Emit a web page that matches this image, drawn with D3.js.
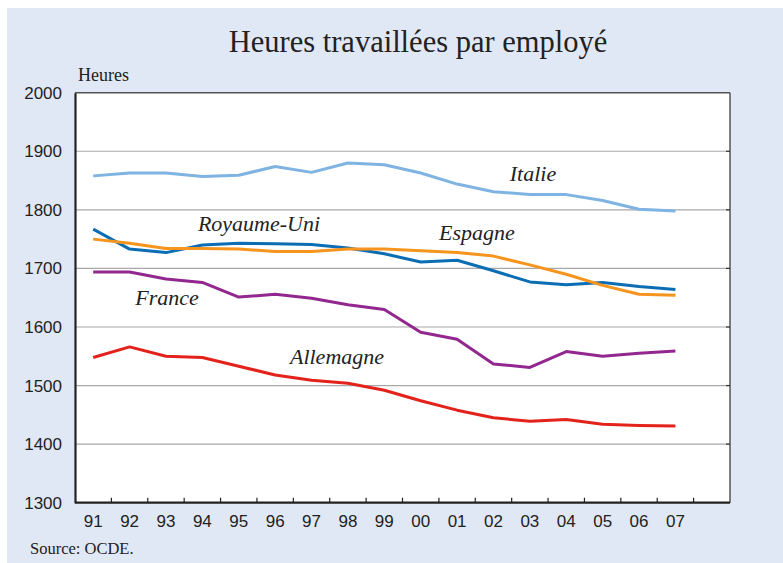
<!DOCTYPE html>
<meta charset="utf-8">
<style>
body { margin: 0; background: #fff; }
svg text { fill: #222; }
.serif { font-family: "Liberation Serif", "Times New Roman", serif; }
.tick text { font-family: "Liberation Sans", Arial, sans-serif; font-size: 17px; fill: #222; }
.series { fill: none; stroke-width: 3px; stroke-linejoin: round; }
.lbl { font-family: "Liberation Serif", serif; font-style: italic; font-size: 22px; }
</style>
<svg width="783" height="563"></svg>
<script src="https://d3js.org/d3.v7.min.js"></script>
<script>

var years = ["91","92","93","94","95","96","97","98","99","00","01","02","03","04","05","06","07"];
var axisYears = years.concat(["08"]);
var yTicks = [1300, 1400, 1500, 1600, 1700, 1800, 1900, 2000];

var italie     = [1858,1863,1863,1857,1859,1874,1864,1880,1877,1863,1844,1831,1826,1826,1816,1801,1798];
var royaumeUni = [1767,1733,1727,1740,1743,1742,1741,1735,1725,1711,1714,1696,1677,1672,1676,1669,1664];
var espagne    = [1750,1743,1734,1734,1733,1729,1729,1733,1733,1730,1727,1721,1706,1690,1671,1656,1654];
var france     = [1694,1694,1682,1676,1651,1656,1649,1638,1630,1591,1579,1537,1531,1558,1550,1555,1559];
var allemagne  = [1548,1566,1550,1548,1533,1518,1509,1504,1492,1474,1458,1445,1439,1442,1434,1432,1431];

var series = [
  { name: "Italie", values: italie, color: "#7fb3e1", lx: 533, ly: 181 },
  { name: "Royaume-Uni", values: royaumeUni, color: "#0b6db4", lx: 259, ly: 231 },
  { name: "Espagne", values: espagne, color: "#f7941d", lx: 477, ly: 240 },
  { name: "France", values: france, color: "#92278f", lx: 167, ly: 305 },
  { name: "Allemagne", values: allemagne, color: "#e3221b", lx: 337, ly: 364 }
];

var svg = d3.select("svg");
var pLeft = 75, pRight = 730, pTop = 92.7, pBottom = 502.7;

// fond bleu
svg.append("rect").attr("x", 7).attr("y", 8).attr("width", 776).attr("height", 555).attr("fill", "#e1e8f5");

var x = d3.scaleBand().domain(axisYears).range([pLeft, pRight]);
var y = d3.scaleLinear().domain([1300, 2000]).range([pBottom, pTop]);

svg.append("rect").attr("x", pLeft).attr("y", pTop).attr("width", pRight - pLeft).attr("height", pBottom - pTop)
  .attr("fill", "#fff");

// grille
svg.append("g").selectAll("line").data(yTicks.slice(1, -1)).join("line")
  .attr("x1", pLeft).attr("x2", pRight)
  .attr("y1", d => y(d)).attr("y2", d => y(d))
  .attr("stroke", "#a8a8a8").attr("stroke-width", 1.2);

// cadre
svg.append("line").attr("x1", pLeft).attr("x2", pRight).attr("y1", pTop).attr("y2", pTop).attr("stroke", "#555").attr("stroke-width", 1.5);
svg.append("line").attr("x1", pRight).attr("x2", pRight).attr("y1", pTop).attr("y2", pBottom).attr("stroke", "#555").attr("stroke-width", 1.5);

// petits traits à droite
svg.append("g").selectAll("line").data(yTicks.slice(1, -1)).join("line")
  .attr("x1", pRight - 4).attr("x2", pRight)
  .attr("y1", d => y(d)).attr("y2", d => y(d))
  .attr("stroke", "#333").attr("stroke-width", 1.2);

// axe y
var yAxis = svg.append("g").attr("transform", "translate(" + pLeft + ",0)")
  .call(d3.axisLeft(y).tickValues(yTicks).tickSize(0).tickPadding(13).tickFormat(d3.format("d")));
yAxis.select(".domain").attr("stroke", "#222").attr("stroke-width", 2.2);

// axe x
var xAxis = svg.append("g").attr("transform", "translate(0," + pBottom + ")")
  .call(d3.axisBottom(x).tickSize(0).tickPadding(12).tickFormat(d => d === "08" ? "" : d));
xAxis.select(".domain").remove();
xAxis.selectAll(".tick text").attr("dy", "0.75em");
svg.append("line").attr("x1", pLeft).attr("x2", pRight).attr("y1", pBottom).attr("y2", pBottom)
  .attr("stroke", "#222").attr("stroke-width", 2.2);
svg.append("g").selectAll("line").data(axisYears.slice(1)).join("line")
  .attr("x1", d => x(d)).attr("x2", d => x(d))
  .attr("y1", pBottom).attr("y2", pBottom - 5)
  .attr("stroke", "#222").attr("stroke-width", 1.2);

// courbes
var line = d3.line()
  .x((d, i) => x(years[i]) + x.bandwidth() / 2)
  .y(d => y(d));

svg.append("g").selectAll("path").data(series).join("path")
  .attr("class", "series")
  .attr("stroke", d => d.color)
  .attr("d", d => line(d.values));

svg.append("g").selectAll("text").data(series).join("text")
  .attr("class", "lbl")
  .attr("x", d => d.lx).attr("y", d => d.ly)
  .attr("text-anchor", "middle")
  .text(d => d.name);

// textes
svg.append("text").attr("class", "serif").attr("x", 418).attr("y", 52)
  .attr("text-anchor", "middle").attr("font-size", 30.5).text("Heures travaillées par employé");
svg.append("text").attr("class", "serif").attr("x", 78).attr("y", 81)
  .attr("font-size", 18).text("Heures");
svg.append("text").attr("class", "serif").attr("x", 30).attr("y", 554)
  .attr("font-size", 16.5).text("Source: OCDE.");

</script>
